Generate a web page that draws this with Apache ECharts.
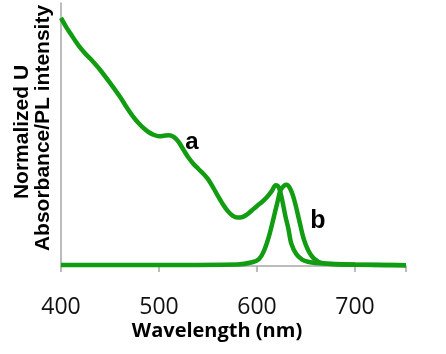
<!DOCTYPE html>
<html>
<head>
<meta charset="utf-8">
<script src="https://cdn.jsdelivr.net/npm/echarts@6/dist/echarts.min.js"></script>
<style>
  html, body { margin: 0; padding: 0; background: #fff; }
  #chart { width: 446px; height: 354px; }
</style>
</head>
<body>
<div id="chart"></div>
<script>
// curve a: UV absorbance
const absWl = [400, 405, 410, 415, 420, 425, 430, 440, 450, 460, 465, 470, 475, 480, 485, 490, 495, 500, 505, 510, 515, 520, 525, 530, 535, 540, 545, 550, 555, 560, 565, 570, 575, 580, 585, 590, 595, 600, 605, 610, 615, 619, 622, 625, 629, 632, 635, 640, 646, 652, 660, 680, 700, 730, 752]
const absVal = [1.0, 0.965, 0.935, 0.905, 0.878, 0.855, 0.835, 0.79, 0.738, 0.683, 0.652, 0.622, 0.595, 0.572, 0.553, 0.538, 0.528, 0.523, 0.525, 0.527, 0.52, 0.5, 0.468, 0.437, 0.412, 0.392, 0.373, 0.35, 0.318, 0.283, 0.25, 0.222, 0.203, 0.195, 0.197, 0.208, 0.225, 0.242, 0.258, 0.277, 0.302, 0.325, 0.318, 0.278, 0.2, 0.15, 0.09, 0.048, 0.026, 0.017, 0.012, 0.008, 0.006, 0.004, 0.003]

// curve b: PL intensity
const plWl = [400, 500, 580, 595, 602, 607, 612, 617, 621, 624, 628, 630, 634, 638, 643, 648, 655, 663, 675, 700, 752]
const plVal = [0.004, 0.004, 0.006, 0.015, 0.028, 0.06, 0.117, 0.195, 0.26, 0.306, 0.325, 0.327, 0.31, 0.266, 0.185, 0.105, 0.044, 0.016, 0.008, 0.005, 0.003]

const xTicks = [400, 500, 600, 700]

const green = '#129c12'

const chart = echarts.init(document.getElementById('chart'))

const option = {
  animation: false,
  grid: { left: 61, right: 40, top: 3, bottom: 88 },
  xAxis: {
    type: 'value',
    min: 400,
    max: 752,
    interval: 100,
    axisLine: { show: true, lineStyle: { color: '#a6a6a6', width: 1.5 } },
    axisTick: { show: true, length: 6, lineStyle: { color: '#a6a6a6', width: 1.5 } },
    splitLine: { show: false },
    axisLabel: {
      margin: 30,
      fontFamily: 'Open Sans',
      fontSize: 23,
      color: '#111',
      formatter: v => (xTicks.includes(v) ? String(v) : '')
    }
  },
  yAxis: {
    type: 'value',
    min: 0,
    max: 1.06,
    axisLine: { show: true, lineStyle: { color: '#a6a6a6', width: 1.5 } },
    axisTick: { show: false },
    axisLabel: { show: false },
    splitLine: { show: false }
  },
  series: [
    {
      name: 'a',
      type: 'line',
      data: absWl.map((w, i) => [w, absVal[i]]),
      smooth: 0.3,
      showSymbol: false,
      lineStyle: { color: green, width: 4.5 }
    },
    {
      name: 'b',
      type: 'line',
      data: plWl.map((w, i) => [w, plVal[i]]),
      smooth: 0.3,
      showSymbol: false,
      lineStyle: { color: green, width: 4.5 }
    }
  ],
  graphic: [
    {
      type: 'text',
      x: 217, y: 331,
      style: {
        text: 'Wavelength (nm)',
        font: 'bold 20px "Open Sans"',
        fill: '#000',
        align: 'center',
        verticalAlign: 'middle'
      }
    },
    {
      type: 'text',
      x: 22, y: 132,
      rotation: Math.PI / 2,
      style: {
        text: 'Normalized U',
        font: 'bold 21px "Liberation Sans"',
        fill: '#000',
        align: 'center',
        verticalAlign: 'middle'
      }
    },
    {
      type: 'text',
      x: 43, y: 128,
      rotation: Math.PI / 2,
      style: {
        text: 'Absorbance/PL intensity',
        font: 'bold 21px "Liberation Sans"',
        fill: '#000',
        align: 'center',
        verticalAlign: 'middle'
      }
    },
    {
      type: 'text',
      x: 192, y: 142,
      style: {
        text: 'a',
        font: 'bold 24px "Liberation Sans"',
        fill: '#000',
        align: 'center',
        verticalAlign: 'middle'
      }
    },
    {
      type: 'text',
      x: 318, y: 221,
      style: {
        text: 'b',
        font: 'bold 25px "Liberation Sans"',
        fill: '#000',
        align: 'center',
        verticalAlign: 'middle'
      }
    }
  ]
}

chart.setOption(option)
</script>
</body>
</html>
